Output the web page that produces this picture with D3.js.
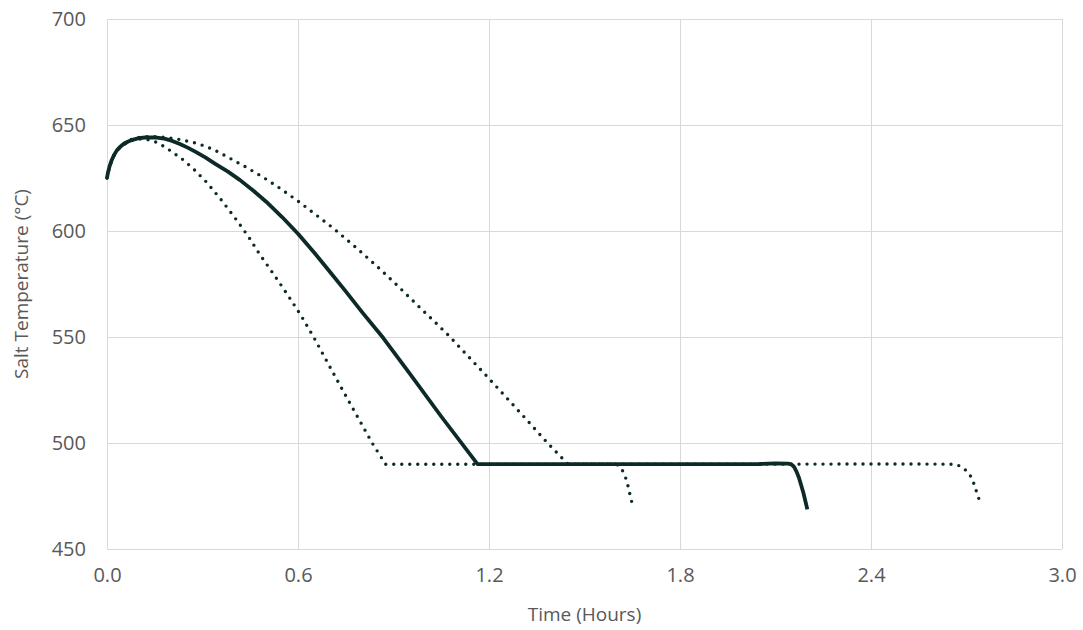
<!DOCTYPE html>
<html>
<head>
<meta charset="utf-8">
<script src="https://cdn.jsdelivr.net/npm/d3@7"></script>
<style>
  body { margin: 0; background: #fff; }
  svg text { font-family: "Open Sans", sans-serif; fill: #595959; }
</style>
</head>
<body>
<svg id="chart" width="1083" height="630"></svg>
<script>
// time in hours, salt temperature in °C
var baseCase = [
  [0, 625], [0.003, 627.5], [0.008, 630.5], [0.015, 633.5], [0.022, 635.8], [0.03, 637.8],
  [0.04, 639.5], [0.05, 640.8], [0.065, 642.1], [0.08, 643], [0.1, 643.8], [0.12, 644.1],
  [0.15, 644.2], [0.18, 643.6], [0.205, 642.5], [0.229, 641], [0.255, 639.2], [0.28, 637.2],
  [0.31, 634.6], [0.34, 631.7], [0.38, 628], [0.418, 624], [0.46, 619], [0.5, 613.8],
  [0.55, 606.6], [0.6, 598.7], [0.65, 590], [0.7, 580.8], [0.75, 571.5], [0.8, 562],
  [0.868, 549.5], [0.95, 533], [1.05, 512.5], [1.164, 490], [1.4, 490], [1.8, 490],
  [2.05, 490.1], [2.1, 490.4], [2.14, 490.3], [2.15, 489.9], [2.158, 488.8], [2.166, 486.5],
  [2.174, 483.5], [2.188, 476.3], [2.2, 468.7]
];
var lowCase = [
  [0, 625], [0.003, 627.5], [0.008, 630.4], [0.015, 633.3], [0.022, 635.6], [0.03, 637.5],
  [0.04, 639.2], [0.05, 640.5], [0.062, 641.7], [0.075, 642.6], [0.088, 643.1], [0.1, 643.4],
  [0.113, 643.4], [0.125, 643.2], [0.138, 642.8], [0.151, 642.1], [0.172, 640.5], [0.193, 638.5],
  [0.215, 636.2], [0.24, 633.5], [0.275, 628.8], [0.313, 623], [0.36, 614.5], [0.407, 605.2],
  [0.445, 597.2], [0.481, 588.7], [0.525, 579.3], [0.57, 569.3], [0.61, 560], [0.649, 550],
  [0.74, 525], [0.833, 500], [0.875, 490], [1.2, 490], [1.6, 490], [1.612, 489],
  [1.624, 485.7], [1.633, 482], [1.64, 477.5], [1.651, 470.6]
];
var highCase = [
  [0, 625], [0.003, 627.5], [0.008, 630.5], [0.015, 633.5], [0.022, 635.9], [0.03, 637.9],
  [0.04, 639.7], [0.05, 641], [0.065, 642.4], [0.08, 643.4], [0.095, 644], [0.11, 644.4],
  [0.14, 644.6], [0.165, 644.4], [0.193, 644], [0.22, 643.4], [0.245, 642.6], [0.27, 641.8],
  [0.293, 640.8], [0.317, 639.5], [0.34, 638], [0.363, 636.2], [0.386, 634.3], [0.43, 630.7],
  [0.49, 625.4], [0.544, 620.1], [0.6, 614.1], [0.655, 607.8], [0.711, 601.3], [0.78, 592.5],
  [0.847, 583.5], [0.91, 574.6], [0.978, 564.6], [1.025, 557.8], [1.072, 550.9], [1.2, 530.4],
  [1.3, 514], [1.384, 500], [1.448, 490], [2.0, 490], [2.5, 490.1], [2.664, 490],
  [2.685, 488.8], [2.706, 486.1], [2.719, 482.8], [2.727, 479], [2.735, 475.5], [2.743, 471.8]
];
var xTicks = [0, 0.6, 1.2, 1.8, 2.4, 3.0];
var yTicks = [450, 500, 550, 600, 650, 700];

(function () {
  var svg = d3.select("#chart");
  var plotLeft = 107, plotRight = 1062, plotTop = 19, plotBottom = 549;
  var lineColor = "#0c2a27";

  var x = d3.scaleLinear().domain([0, 3]).range([plotLeft, plotRight]);
  var y = d3.scaleLinear().domain([450, 700]).range([plotBottom, plotTop]);

  // gridlines
  var grid = svg.append("g").attr("stroke", "#d9d9d9").attr("stroke-width", 1);
  grid.selectAll("line.h").data(yTicks).join("line").attr("class", "h")
    .attr("x1", plotLeft).attr("x2", plotRight)
    .attr("y1", function (d) { return Math.round(y(d)) + 0.5; })
    .attr("y2", function (d) { return Math.round(y(d)) + 0.5; });
  grid.selectAll("line.v").data(xTicks).join("line").attr("class", "v")
    .attr("y1", plotTop).attr("y2", plotBottom)
    .attr("x1", function (d) { return Math.round(x(d)) + 0.5; })
    .attr("x2", function (d) { return Math.round(x(d)) + 0.5; });

  // axes (labels only)
  var xAxis = svg.append("g").attr("transform", "translate(0," + plotBottom + ")")
    .call(d3.axisBottom(x).tickValues(xTicks).tickSize(0).tickPadding(19).tickFormat(d3.format(".1f")));
  var yAxis = svg.append("g").attr("transform", "translate(" + plotLeft + ",0)")
    .call(d3.axisLeft(y).tickValues(yTicks).tickSize(0).tickPadding(21));
  [xAxis, yAxis].forEach(function (a) {
    a.select(".domain").remove();
    a.selectAll("text").style("font-size", "20px").style("font-family", "'Open Sans', sans-serif").attr("fill", "#595959");
  });

  svg.append("text").attr("x", (plotLeft + plotRight) / 2).attr("y", 621)
    .attr("text-anchor", "middle").style("font-size", "19px").text("Time (Hours)");
  svg.append("text").attr("transform", "translate(28," + ((plotTop + plotBottom) / 2) + ") rotate(-90)")
    .attr("text-anchor", "middle").style("font-size", "19px").text("Salt Temperature (°C)");

  var line = d3.line()
    .x(function (d) { return x(d[0]); })
    .y(function (d) { return y(d[1]); });

  [lowCase, highCase].forEach(function (series) {
    svg.append("path").datum(series).attr("d", line)
      .attr("fill", "none").attr("stroke", lineColor).attr("stroke-width", 3.4)
      .attr("stroke-linecap", "round").attr("stroke-linejoin", "round")
      .attr("stroke-dasharray", "0 8");
  });
  svg.append("path").datum(baseCase).attr("d", line)
    .attr("fill", "none").attr("stroke", lineColor).attr("stroke-width", 3.8)
    .attr("stroke-linejoin", "round");
})();
</script>
</body>
</html>
